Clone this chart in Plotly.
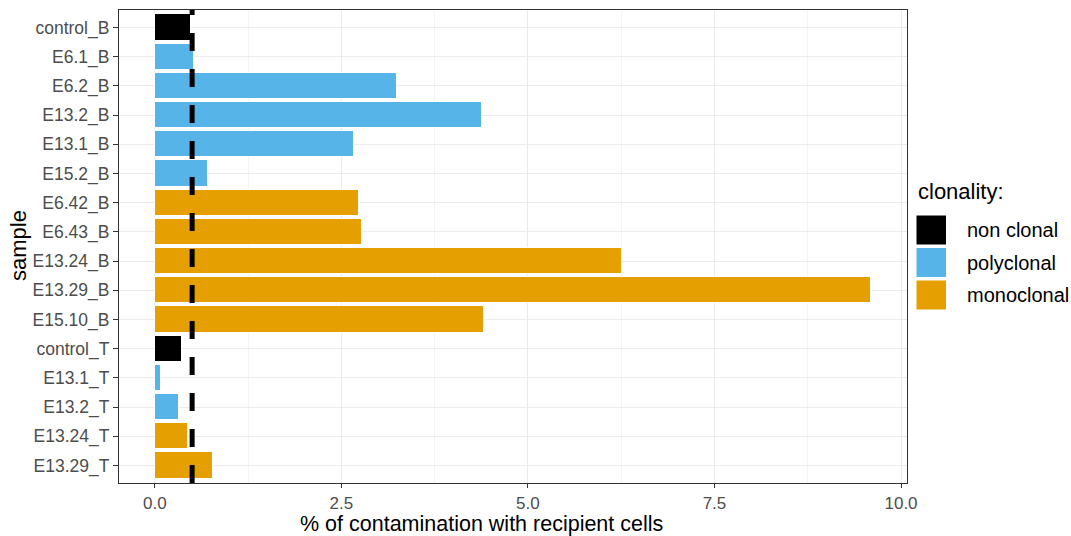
import plotly.graph_objects as go

samples = ["control_B", "E6.1_B", "E6.2_B", "E13.2_B", "E13.1_B", "E15.2_B",
           "E6.42_B", "E6.43_B", "E13.24_B", "E13.29_B", "E15.10_B",
           "control_T", "E13.1_T", "E13.2_T", "E13.24_T", "E13.29_T"]
contamination = [0.49, 0.52, 3.25, 4.385, 2.67, 0.71,
                 2.73, 2.78, 6.26, 9.6, 4.41,
                 0.365, 0.085, 0.32, 0.44, 0.78]
clonality = ["non clonal", "polyclonal", "polyclonal", "polyclonal", "polyclonal", "polyclonal",
             "monoclonal", "monoclonal", "monoclonal", "monoclonal", "monoclonal",
             "non clonal", "polyclonal", "polyclonal", "monoclonal", "monoclonal"]
groups = ["non clonal", "polyclonal", "monoclonal"]
colors = {"non clonal": "#000000", "polyclonal": "#56B4E9", "monoclonal": "#E69F00"}
threshold = 0.5
x_ticks = [0, 2.5, 5, 7.5, 10]
x_tick_labels = ["0.0", "2.5", "5.0", "7.5", "10.0"]

W, H = 1071, 536
L, R, T, B = 119, 907, 10, 483

fig = go.Figure()
for g in groups:
    ys = [s for s, c in zip(samples, clonality) if c == g]
    xs = [v for v, c in zip(contamination, clonality) if c == g]
    fig.add_trace(go.Bar(
        x=xs, y=ys, orientation="h", width=0.9, name=g,
        marker=dict(color=colors[g], line=dict(color="white", width=1)),
        showlegend=False,
    ))

fig.add_shape(type="line", xref="x", yref="paper", x0=threshold, x1=threshold,
              y0=0, y1=1, line=dict(color="black", width=5, dash="18px,18px"))

def px_x(p):
    return (p - L) / (R - L)

def px_y(p):
    return (B - p) / (B - T)

# manual legend
fig.add_annotation(xref="paper", yref="paper", x=px_x(916), y=px_y(191),
                   text="clonality:", showarrow=False, xanchor="left", yanchor="middle",
                   font=dict(size=22, color="black"))
key_tops = [215, 247.5, 280]
for g, kt in zip(groups, key_tops):
    fig.add_shape(type="rect", xref="paper", yref="paper",
                  x0=px_x(916), x1=px_x(946.5), y0=px_y(kt), y1=px_y(kt + 30),
                  fillcolor=colors[g], line=dict(color="white", width=1))
    fig.add_annotation(xref="paper", yref="paper", x=px_x(965), y=px_y(kt + 15),
                       text=g, showarrow=False, xanchor="left", yanchor="middle",
                       font=dict(size=20, color="black"))

# axis titles
fig.add_annotation(xref="paper", yref="paper", x=px_x(481), y=px_y(524.2),
                   text="% of contamination with recipient cells", showarrow=False,
                   xanchor="center", yanchor="middle", borderpad=0,
                   font=dict(size=21.5, color="black"))
fig.add_annotation(xref="paper", yref="paper", x=px_x(18), y=px_y(246),
                   text="sample", showarrow=False, textangle=-90,
                   xanchor="center", yanchor="middle", font=dict(size=22, color="black"))

fig.update_layout(
    width=W, height=H,
    margin=dict(l=L, r=W - R, t=T, b=H - B, pad=0),
    plot_bgcolor="white", paper_bgcolor="white",
    barmode="overlay", bargap=0,
    font=dict(family="Liberation Sans, Arial, sans-serif", color="#4D4D4D"),
)
fig.update_xaxes(
    range=[-0.48, 10.08], tickvals=x_ticks, ticktext=x_tick_labels,
    showgrid=True, gridcolor="#EBEBEB", gridwidth=1.2,
    minor=dict(showgrid=True, gridcolor="#F4F4F4", gridwidth=0.7, tick0=0, dtick=1.25),
    ticks="outside", ticklen=4, tickwidth=1.2, tickcolor="#333333",
    tickfont=dict(size=17, color="#4D4D4D"),
    showline=True, mirror=True, linecolor="#333333", linewidth=1.2,
    zeroline=False,
)
fig.update_yaxes(
    type="category", categoryorder="array", categoryarray=samples,
    range=[15.6, -0.6],
    showgrid=True, gridcolor="#EBEBEB", gridwidth=1.2,
    ticks="outside", ticklen=5, tickwidth=1.2, tickcolor="#333333",
    tickfont=dict(size=17.5, color="#4D4D4D"),
    showline=True, mirror=True, linecolor="#333333", linewidth=1.2,
    zeroline=False,
)

fig.write_html("out.html")
